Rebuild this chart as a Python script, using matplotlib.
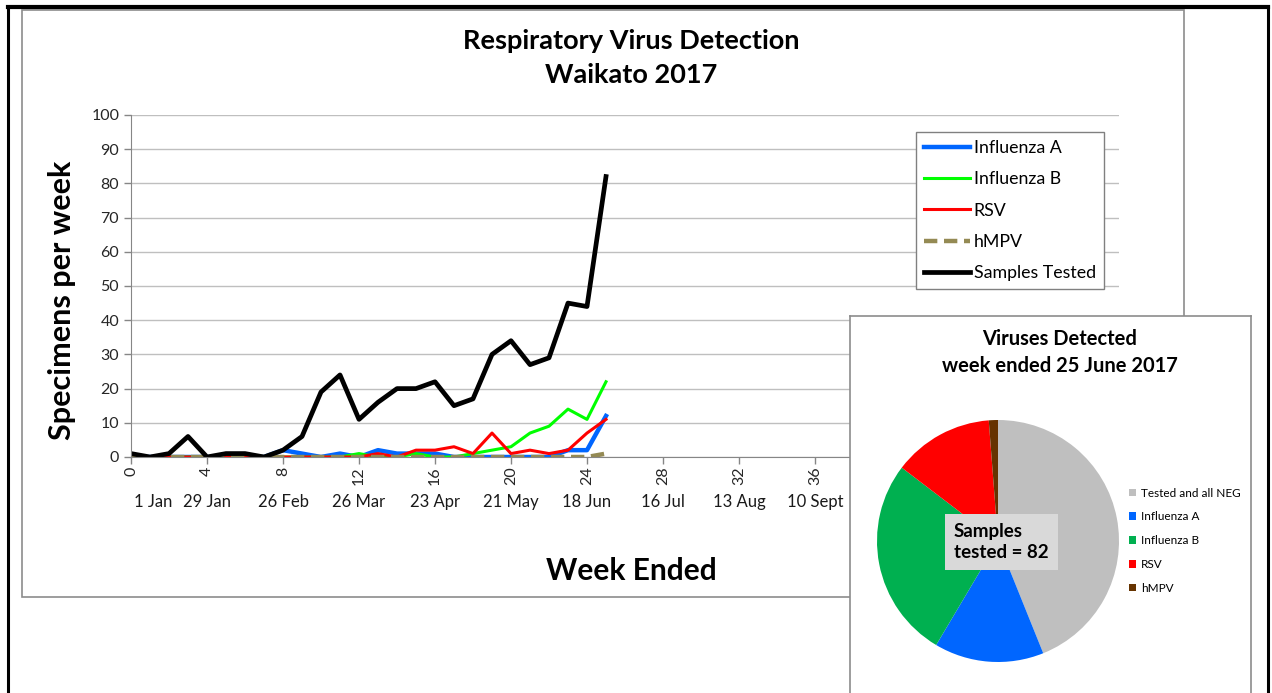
import matplotlib
matplotlib.use("Agg")
import matplotlib.pyplot as plt
from matplotlib.patches import Patch
import matplotlib.transforms as mtransforms

plt.rcParams["font.family"] = ["Lato", "DejaVu Sans"]

W, H = 1272, 693

weeks = list(range(26))
flu_a = [0, 0, 0, 0, 0, 0, 0, 0, 2, 1, 0, 1, 0, 2, 1, 1, 1, 0, 0, 0, 0, 0, 0, 2, 2, 12]
flu_b = [0, 0, 0, 0, 0, 0, 0, 0, 0, 0, 0, 0, 1, 0, 0, 1, 0, 0, 1, 2, 3, 7, 9, 14, 11, 22]
rsv = [0, 0, 0, 0, 0, 0, 0, 0, 0, 0, 0, 0, 0, 1, 0, 2, 2, 3, 1, 7, 1, 2, 1, 2, 7, 11]
hmpv = [0, 0, 0, 0, 0, 0, 0, 0, 0, 0, 0, 0, 0, 0, 0, 0, 0, 0, 0, 0, 0, 0, 0, 0, 0, 1]
samples = [1, 0, 1, 6, 0, 1, 1, 0, 2, 6, 19, 24, 11, 16, 20, 20, 22, 15, 17, 30, 34, 27, 29, 45, 44, 82]

date_weeks = [0, 4, 8, 12, 16, 20, 24, 28, 32, 36, 40, 44, 48, 52]
date_labels = ["1 Jan", "29 Jan", "26 Feb", "26 Mar", "23 Apr", "21 May", "18 Jun",
               "16 Jul", "13 Aug", "10 Sept", "8 Oct", "5 Nov", "3 Dec", "31 Dec"]

pie_labels = ["Tested and all NEG", "Influenza A", "Influenza B", "RSV", "hMPV"]
pie_values = [36, 12, 22, 11, 1]
pie_colors = ["#BFBFBF", "#0066FF", "#00B050", "#FF0000", "#663300"]


def fx(px):
    return px / W


def fy(py):
    return 1 - py / H


fig = plt.figure(figsize=(W / 100, H / 100), dpi=100)

# background frames in pixel coordinates
bg = fig.add_axes([0, 0, 1, 1], zorder=-5)
bg.set_xlim(0, W)
bg.set_ylim(H, 0)
bg.axis("off")
bg.plot([8, 8], [7, H], color="black", lw=2.2)
bg.plot([8, 1268], [7, 7], color="black", lw=3)
bg.plot([1268, 1268], [7, H], color="black", lw=2.2)
bg.add_patch(plt.Rectangle((22, 10), 1162, 587, fill=False, ec="#8C8C8C", lw=1.2))

# main line chart
ax = fig.add_axes([fx(131), fy(457), fx(1119 - 131), (457 - 115) / H])
ax.plot(weeks, flu_a, color="#0066FF", lw=3.2, label="Influenza A")
ax.plot(weeks, flu_b, color="#00FF00", lw=2.2, label="Influenza B")
ax.plot(weeks, rsv, color="#FF0000", lw=2.2, label="RSV")
ax.plot(weeks, hmpv, color="#948A54", lw=3.2, ls=(0, (3, 1.5)), label="hMPV")
ax.plot(weeks, samples, color="black", lw=3.4, label="Samples Tested")

ax.set_xlim(0, 52)
ax.set_ylim(0, 100)
ax.set_yticks(range(0, 101, 10))
ax.set_xticks(range(0, 53, 4))
ax.set_xticklabels([str(w) for w in range(0, 53, 4)], rotation=90)
ax.grid(axis="y", color="#BFBFBF", lw=1)
ax.set_axisbelow(True)
for s in ["top", "right"]:
    ax.spines[s].set_visible(False)
for s in ["left", "bottom"]:
    ax.spines[s].set_color("#868686")
ax.tick_params(axis="both", colors="#868686", labelcolor="#262626", labelsize=11.5,
               length=5, width=1)
ax.tick_params(axis="x", pad=2)

trans = mtransforms.blended_transform_factory(ax.transData, ax.transAxes)
for w, lab in zip(date_weeks, date_labels):
    ax.text(w + (0.15 if w == 0 else 0), -0.132, lab, transform=trans,
            ha="left" if w == 0 else "center", va="center", fontsize=12, color="#1a1a1a")

fig.text(fx(631), fy(41), "Respiratory Virus Detection", ha="center", va="center",
         fontsize=19.5, fontweight="bold")
fig.text(fx(631), fy(75), "Waikato 2017", ha="center", va="center",
         fontsize=19.5, fontweight="bold")
fig.text(fx(62), fy(300), "Specimens per week", rotation=90, ha="center", va="center",
         fontsize=22, fontweight="bold")
fig.text(fx(631), fy(571), "Week Ended", ha="center", va="center",
         fontsize=21.5, fontweight="bold")

leg = ax.legend(loc="upper left", bbox_to_anchor=(fx(916), fy(132)),
                bbox_transform=fig.transFigure, fontsize=12.8, handlelength=2.6,
                handletextpad=0.2, labelspacing=0.86, borderpad=0.45, borderaxespad=0,
                fancybox=False, framealpha=1, edgecolor="#808080")
leg.get_frame().set_linewidth(1)

# pie panel
panel = fig.add_axes([fx(850), -0.02, fx(1251 - 850), fy(316) + 0.02], zorder=5)
panel.set_xticks([])
panel.set_yticks([])
panel.set_facecolor("white")
for s in panel.spines.values():
    s.set_color("#8C8C8C")
    s.set_linewidth(1.2)

pax = fig.add_axes([fx(998 - 121), fy(662), fx(242), 242 / H], zorder=6)
pax.pie(pie_values, colors=pie_colors, startangle=90, counterclock=False)
pax.set_xlim(-1, 1)
pax.set_ylim(-1, 1)

fig.text(fx(1060), fy(339), "Viruses Detected", ha="center", va="center",
         fontsize=14.5, fontweight="bold", zorder=10)
fig.text(fx(1060), fy(366), "week ended 25 June 2017", ha="center", va="center",
         fontsize=14.5, fontweight="bold", zorder=10)

fig.text(fx(954), fy(542), "Samples\ntested = " + str(sum(pie_values)), ha="left", va="center",
         fontsize=13.5, fontweight="bold", linespacing=1.3, zorder=10,
         bbox=dict(boxstyle="square,pad=0.5", fc="#D9D9D9", ec="none"))

handles = [Patch(fc=c, ec="none") for c in pie_colors]
pleg = fig.legend(handles, pie_labels, loc="upper left", bbox_to_anchor=(fx(1118), fy(477)),
                  frameon=False, fontsize=8.5, handlelength=0.65, handleheight=0.65,
                  handletextpad=0.4, labelspacing=1.08)
pleg.set_zorder(10)

fig.savefig("out.png", dpi=100)
